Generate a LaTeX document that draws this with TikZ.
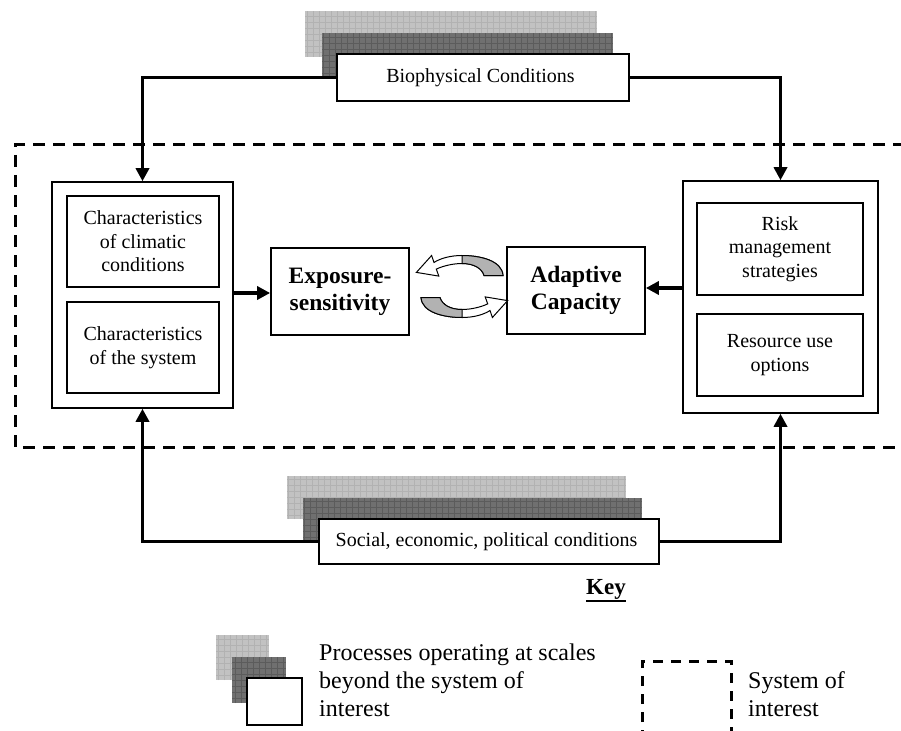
\documentclass[tikz,border=0pt]{standalone}
\usepackage{fontspec}
\setmainfont{Liberation Serif}
\usetikzlibrary{arrows.meta}

\tikzset{
  box/.style={draw, line width=1.5pt, fill=white, align=center, inner sep=0pt,
    font=\fontsize{20}{23.5}\selectfont},
  mainbox/.style={box, line width=1.7pt, font=\fontsize{23.5}{27}\selectfont\bfseries},
  shadelight/.style={fill=black!24, inner sep=0pt, path picture={
    \draw [black!30, line width=0.4pt, step=6pt] (path picture bounding box.south west) grid (path picture bounding box.north east);}},
  shadedark/.style={fill=black!56, inner sep=0pt, path picture={
    \draw [black!64, line width=0.4pt, step=6pt] (path picture bounding box.south west) grid (path picture bounding box.north east);}},
  link/.style={line width=3.2pt, -{Triangle[length=13pt,width=13pt]}},
  sysline/.style={line width=3pt, dash pattern=on 12pt off 8pt},
  cyclearrow/.pic={
    \draw [line width=1pt, fill=white] (41,-11) .. controls (40,-26) and (18,-31) .. (0,-31)
      .. controls (-12,-31) and (-22,-28) .. (-28,-24) -- (-30.4,-31) -- (-45.6,-14.1)
      -- (-23.2,-10.4) -- (-25.7,-17.4) .. controls (-18,-21) and (-8,-23) .. (0,-23)
      .. controls (12,-23) and (20,-18) .. (22,-11) -- cycle;
    \draw [line width=1pt, fill=black!30] (41,-11) .. controls (40,-26) and (18,-31) .. (0,-31)
      -- (0,-23) .. controls (12,-23) and (20,-18) .. (22,-11) -- cycle;
  }
}

\begin{document}
\begin{tikzpicture}[x=1pt, y=-1pt]

\useasboundingbox (0,0) rectangle (901,730);
\clip (0,0) rectangle (901,730);
\fill [white] (0,0) rectangle (901,730);

%% System of interest
\draw [sysline] (905,145) -- (15,145) -- (15,447) -- (905,447);

%% Biophysical conditions, top
\node [shadelight, minimum width=292pt, minimum height=46pt] (biolight) at (451,34) {};
\node [shadedark, minimum width=291pt, minimum height=45pt] (biodark) at (467.5,55.5) {};
\node [box, minimum width=292pt, minimum height=47pt] (bio) at (483,77.5) { Biophysical Conditions };

%% Social conditions, bottom
\node [shadelight, minimum width=339pt, minimum height=43pt] (soclight) at (456.5,497.5) {};
\node [shadedark, minimum width=339pt, minimum height=43pt] (socdark) at (472.5,519.5) {};
\node [box, minimum width=340pt, minimum height=45pt] (soc) at (489,541.5) { Social, economic, political conditions };

%% Left block
\node [box, minimum width=181pt, minimum height=226pt] (left) at (142.5,295) {};
\node [box, minimum width=152pt, minimum height=91pt] (climate) at (143,241.5) { Characteristics\\ of climatic\\ conditions };
\node [box, minimum width=152pt, minimum height=91pt] (system) at (143,347.5) { Characteristics\\ of the system };

%% Right block
\node [box, minimum width=195pt, minimum height=232pt] (right) at (780.5,297) {};
\node [box, minimum width=166pt, minimum height=92pt] (risk) at (780,249) { Risk\\ management\\ strategies };
\node [box, minimum width=166pt, minimum height=82pt] (resource) at (780,355) { Resource use\\ options };

%% Middle
\node [mainbox, minimum width=138pt, minimum height=87pt] (expo) at (340,291.5) { Exposure-\\ sensitivity };
\node [mainbox, minimum width=138pt, minimum height=87pt] (adapt) at (576,290.5) { Adaptive\\ Capacity };
\pic at (462,286.5) {cyclearrow};
\pic [rotate=180] at (462,286.5) {cyclearrow};

%% Links
\draw [link] (bio.west) -| (left.north);
\draw [link] (bio.east) -| (right.north);
\draw [link] (soc.west) -| (left.south);
\draw [link] (soc.east) -| (right.south);
\draw [link] (left.east |- 0,293) -- (expo.west |- 0,293);
\draw [link] (right.west |- 0,288) -- (adapt.east |- 0,288);

%% Key
\node [font=\fontsize{23}{27}\selectfont\bfseries, inner xsep=0pt, inner ysep=2pt] (key) at (606,589) { Key };
\draw [line width=2pt] (key.south west) -- (key.south east);

\node [shadelight, minimum width=53pt, minimum height=45pt] (keylight) at (242.5,657.5) {};
\node [shadedark, minimum width=54pt, minimum height=46pt] (keydark) at (259,680) {};
\node [box, minimum width=55pt, minimum height=47pt] (keywhite) at (274.5,701.5) {};
\node [anchor=west, align=left, inner sep=0pt, font=\fontsize{24}{28}\selectfont] (keytext) at (319,680)
  { Processes operating at scales\\ beyond the system of\\ interest };

\draw [sysline, dash pattern=on 10pt off 8pt] (642,740) -- (642,661) -- (731,661) -- (731,740);
\node [anchor=west, align=left, inner sep=0pt, font=\fontsize{24}{28}\selectfont] (systext) at (748,694)
  { System of\\ interest };

\end{tikzpicture}
\end{document}
